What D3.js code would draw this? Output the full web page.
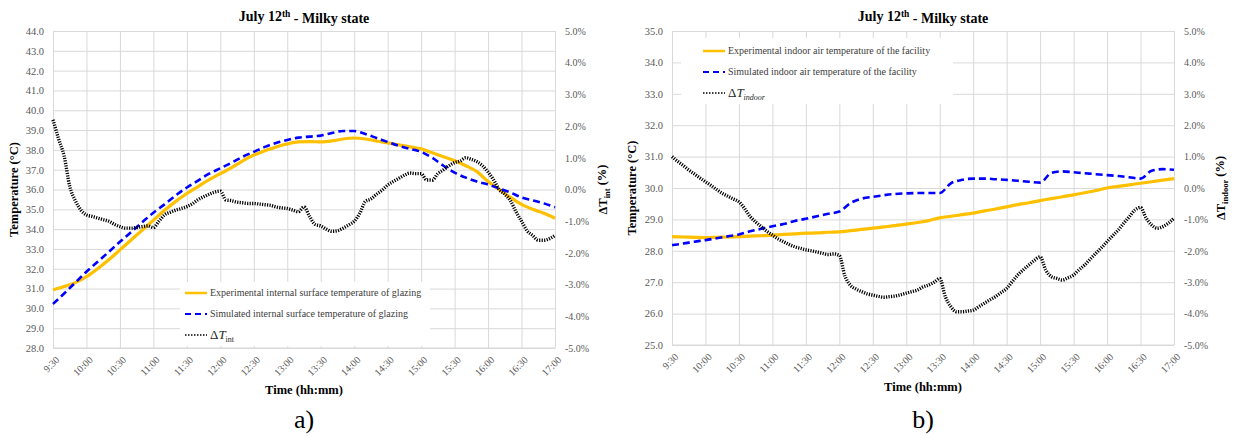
<!DOCTYPE html>
<html>
<head>
<meta charset="utf-8">
<script src="https://cdn.jsdelivr.net/npm/d3@7"></script>
<style>
  body { margin: 0; background: #fff; }
  svg { display: block; }
  text { font-family: "Liberation Serif", serif; }
</style>
</head>
<body>
<svg id="chart" width="1234" height="436"></svg>
<script>
"use strict";

// ---- data ----
const xTickLabels = ["9:30", "10:00", "10:30", "11:00", "11:30", "12:00", "12:30", "13:00",
  "13:30", "14:00", "14:30", "15:00", "15:30", "16:00", "16:30", "17:00"];

// temperature series, 10 min step
const tempTimes = ["9:30", "9:40", "9:50", "10:00", "10:10", "10:20", "10:30", "10:40", "10:50",
  "11:00", "11:10", "11:20", "11:30", "11:40", "11:50", "12:00", "12:10", "12:20", "12:30", "12:40", "12:50",
  "13:00", "13:10", "13:20", "13:30", "13:40", "13:50", "14:00", "14:10", "14:20", "14:30", "14:40", "14:50",
  "15:00", "15:10", "15:20", "15:30", "15:40", "15:50", "16:00", "16:10", "16:20", "16:30", "16:40", "16:50", "17:00"];

// delta series, 5 min step
const deltaTimes = ["9:30", "9:35", "9:40", "9:45", "9:50", "9:55",
  "10:00", "10:05", "10:10", "10:15", "10:20", "10:25", "10:30", "10:35", "10:40", "10:45", "10:50", "10:55",
  "11:00", "11:05", "11:10", "11:15", "11:20", "11:25", "11:30", "11:35", "11:40", "11:45", "11:50", "11:55",
  "12:00", "12:05", "12:10", "12:15", "12:20", "12:25", "12:30", "12:35", "12:40", "12:45", "12:50", "12:55",
  "13:00", "13:05", "13:10", "13:15", "13:20", "13:25", "13:30", "13:35", "13:40", "13:45", "13:50", "13:55",
  "14:00", "14:05", "14:10", "14:15", "14:20", "14:25", "14:30", "14:35", "14:40", "14:45", "14:50", "14:55",
  "15:00", "15:05", "15:10", "15:15", "15:20", "15:25", "15:30", "15:35", "15:40", "15:45", "15:50", "15:55",
  "16:00", "16:05", "16:10", "16:15", "16:20", "16:25", "16:30", "16:35", "16:40", "16:45", "16:50", "16:55",
  "17:00"];

// a) glazing
const expGlazing = [30.93, 31.1, 31.3, 31.6, 32.0, 32.45, 32.95, 33.45, 33.95, 34.45, 34.95, 35.4,
  35.8, 36.15, 36.5, 36.8, 37.1, 37.45, 37.74, 37.95, 38.15, 38.3, 38.4, 38.42, 38.4, 38.45, 38.55,
  38.6, 38.55, 38.45, 38.35, 38.25, 38.15, 38.05, 37.85, 37.65, 37.45, 37.2, 36.9, 36.4, 36.0, 35.6,
  35.25, 35.0, 34.8, 34.55];
const simGlazing = [30.22, 30.75, 31.3, 31.85, 32.35, 32.85, 33.36, 33.85, 34.35, 34.83, 35.25, 35.7,
  36.1, 36.45, 36.8, 37.07, 37.35, 37.65, 37.9, 38.15, 38.35, 38.5, 38.62, 38.67, 38.72, 38.85, 38.95,
  38.95, 38.8, 38.6, 38.4, 38.2, 38.05, 37.9, 37.6, 37.2, 36.85, 36.6, 36.4, 36.25, 36.05, 35.85,
  35.6, 35.45, 35.3, 35.1];
const deltaInt = [2.2, 1.6, 1.05, 0.1, -0.35, -0.65,
  -0.8, -0.85, -0.9, -0.95, -1.0, -1.1, -1.17, -1.22, -1.22, -1.2, -1.17, -1.15,
  -1.2, -1.0, -0.8, -0.72, -0.65, -0.6, -0.54, -0.45, -0.32, -0.23, -0.15, -0.08,
  -0.05, -0.33, -0.35, -0.4, -0.42, -0.44, -0.44, -0.46, -0.48, -0.5, -0.55, -0.58,
  -0.6, -0.65, -0.7, -0.55, -0.85, -1.1, -1.15, -1.25, -1.32, -1.3, -1.22, -1.12,
  -1.0, -0.75, -0.38, -0.3, -0.15, -0.02, 0.14, 0.25, 0.35, 0.45, 0.52, 0.5,
  0.5, 0.3, 0.3, 0.5, 0.62, 0.75, 0.85, 0.9, 1.0, 0.95, 0.88, 0.75,
  0.55, 0.3, 0.0, -0.15, -0.35, -0.7, -1.0, -1.3, -1.45, -1.6, -1.6, -1.55,
  -1.45];

// b) indoor air
const expIndoor = [28.45, 28.44, 28.43, 28.42, 28.43, 28.44, 28.45, 28.47, 28.48, 28.5, 28.52, 28.54,
  28.56, 28.57, 28.59, 28.6, 28.64, 28.68, 28.72, 28.76, 28.8, 28.85, 28.9, 28.96, 29.05, 29.1, 29.15,
  29.2, 29.27, 29.33, 29.4, 29.47, 29.53, 29.6, 29.66, 29.72, 29.78, 29.85, 29.92, 30.0, 30.05, 30.1,
  30.15, 30.2, 30.25, 30.3];
const simIndoor = [28.18, 28.23, 28.29, 28.34, 28.4, 28.46, 28.52, 28.62, 28.7, 28.78, 28.85, 28.95,
  29.02, 29.1, 29.18, 29.25, 29.52, 29.66, 29.72, 29.77, 29.81, 29.83, 29.84, 29.84, 29.84, 30.15, 30.26,
  30.3, 30.3, 30.28, 30.26, 30.23, 30.2, 30.17, 30.48, 30.53, 30.5, 30.47, 30.44, 30.41, 30.38, 30.34,
  30.3, 30.55, 30.6, 30.58];
const deltaIndoor = [1.0, 0.85, 0.72, 0.57, 0.45, 0.32,
  0.2, 0.08, -0.05, -0.17, -0.26, -0.35, -0.44, -0.65, -0.91, -1.08, -1.23, -1.38,
  -1.5, -1.62, -1.71, -1.8, -1.87, -1.92, -1.97, -2.0, -2.04, -2.08, -2.12, -2.1,
  -2.15, -2.8, -3.1, -3.22, -3.3, -3.37, -3.41, -3.45, -3.48, -3.46, -3.44, -3.4,
  -3.35, -3.3, -3.25, -3.15, -3.09, -3.0, -2.88, -3.46, -3.78, -3.94, -3.94, -3.92,
  -3.89, -3.78, -3.67, -3.56, -3.46, -3.33, -3.2, -2.98, -2.77, -2.6, -2.45, -2.3,
  -2.19, -2.61, -2.82, -2.88, -2.93, -2.86, -2.77, -2.6, -2.45, -2.26, -2.08, -1.9,
  -1.71, -1.52, -1.34, -1.12, -0.91, -0.7, -0.62, -0.96, -1.18, -1.28, -1.23, -1.12,
  -0.96];

const deltaDomain = [-5, 5];

// ---- drawing ----
const svg = d3.select("#chart");
const parseT = d3.timeParse("%H:%M");
const fmtT = d3.timeFormat("%-H:%M");

const ORANGE = "#ffc000", BLUE = "#0000ff", GRID = "#d9d9d9", TICK = "#595959";
const SERIF = "'Liberation Serif', serif";

function drawPanel(p) {
  const w = p.x1 - p.x0, h = p.y1 - p.y0;
  const x = d3.scaleTime()
    .domain([parseT(xTickLabels[0]), parseT(xTickLabels[xTickLabels.length - 1])])
    .range([p.x0, p.x1]);
  const yT = d3.scaleLinear().domain(p.tempDomain).range([p.y1, p.y0]);
  const yD = d3.scaleLinear().domain(deltaDomain).range([p.y1, p.y0]);
  const nT = p.tempDomain[1] - p.tempDomain[0];

  // gridlines
  svg.append("g")
    .attr("transform", `translate(${p.x0},0)`)
    .call(d3.axisLeft(yT).ticks(nT).tickSize(-w).tickFormat(""))
    .call(g => g.select(".domain").remove())
    .call(g => g.selectAll("line").attr("stroke", GRID));
  svg.append("g")
    .attr("transform", `translate(0,${p.y1})`)
    .call(d3.axisBottom(x).tickValues(xTickLabels.map(parseT)).tickSize(-h).tickFormat(""))
    .call(g => g.select(".domain").remove())
    .call(g => g.selectAll("line").attr("stroke", GRID));

  // legend box (covers the grid)
  const lg = p.legend;
  svg.append("rect")
    .attr("x", lg.x).attr("y", lg.y).attr("width", lg.w).attr("height", lg.h)
    .attr("fill", "#fff");

  // tick labels
  svg.append("g")
    .attr("transform", `translate(${p.x0},0)`)
    .attr("font-family", SERIF)
    .call(d3.axisLeft(yT).ticks(nT).tickSize(0).tickPadding(9).tickFormat(d => d.toFixed(1)))
    .call(g => g.select(".domain").remove())
    .call(g => g.selectAll("text").attr("fill", TICK).style("font-size", "10.5px").style("font-family", SERIF));
  svg.append("g")
    .attr("transform", `translate(${p.x1},0)`)
    .call(d3.axisRight(yD).ticks(10).tickSize(0).tickPadding(10).tickFormat(d => d.toFixed(1) + "%"))
    .call(g => g.select(".domain").remove())
    .call(g => g.selectAll("text").attr("fill", TICK).style("font-size", "10px").style("font-family", SERIF));
  svg.append("g")
    .attr("transform", `translate(0,${p.y1})`)
    .call(d3.axisBottom(x).tickValues(xTickLabels.map(parseT)).tickSize(0).tickFormat(fmtT))
    .call(g => g.select(".domain").remove())
    .call(g => g.selectAll("text")
      .attr("fill", TICK).attr("y", 0).attr("dy", "0.35em")
      .attr("text-anchor", "end")
      .attr("transform", "translate(4,10) rotate(-45)")
      .style("font-size", "10px")
      .style("font-family", SERIF));

  // bottom axis line
  svg.append("line")
    .attr("x1", p.x0).attr("x2", p.x1).attr("y1", p.y1).attr("y2", p.y1)
    .attr("stroke", GRID);

  // series
  const tempLine = d3.line().x(d => x(d.t)).y(d => yT(d.v)).curve(d3.curveMonotoneX);
  const deltaLine = d3.line().x(d => x(d.t)).y(d => yD(d.v)).curve(d3.curveMonotoneX);
  const pack = (times, vals) => vals.map((v, i) => ({ t: parseT(times[i]), v: v }));

  svg.append("path")
    .datum(pack(tempTimes, p.exp))
    .attr("d", tempLine)
    .attr("fill", "none").attr("stroke", ORANGE).attr("stroke-width", 3.2);
  svg.append("path")
    .datum(pack(tempTimes, p.sim))
    .attr("d", tempLine)
    .attr("fill", "none").attr("stroke", BLUE).attr("stroke-width", 2.6)
    .attr("stroke-dasharray", "7,4");
  svg.append("path")
    .datum(pack(deltaTimes, p.delta))
    .attr("d", deltaLine)
    .attr("fill", "none").attr("stroke", "#000").attr("stroke-width", 3.4)
    .attr("stroke-dasharray", "1.2,1.3");

  // legend items
  const items = [
    { label: p.expLabel, color: ORANGE, dash: null, sw: 2.5 },
    { label: p.simLabel, color: BLUE, dash: "6,4", sw: 2.2 },
    { label: null, color: "#000", dash: "1.5,1.5", sw: 1.6 }
  ];
  items.forEach((it, i) => {
    const yy = lg.rowY[i];
    svg.append("line")
      .attr("x1", lg.sx0).attr("x2", lg.sx1).attr("y1", yy).attr("y2", yy)
      .attr("stroke", it.color).attr("stroke-width", it.sw)
      .attr("stroke-dasharray", it.dash);
    const t = svg.append("text")
      .attr("x", lg.sx1 + 3).attr("y", yy).attr("dy", "0.33em")
      .attr("fill", "#404040").style("font-size", "10px");
    if (it.label) {
      t.text(it.label);
    } else {
      t.style("font-size", "13px").attr("fill", "#262626");
      t.append("tspan").text("\u0394");
      t.append("tspan").text("T").style("font-style", "italic");
      t.append("tspan").text(p.deltaSub).attr("dy", "0.35em")
        .style("font-size", "8px").style("font-style", p.subItalic ? "italic" : "normal");
    }
  });

  // chart title
  const cx = (p.x0 + p.x1) / 2;
  const title = svg.append("text")
    .attr("x", cx).attr("y", 21).attr("text-anchor", "middle")
    .style("font-size", "14px").style("font-weight", "bold").attr("fill", "#000");
  title.append("tspan").text("July 12");
  title.append("tspan").text("th").attr("dy", "-0.45em").style("font-size", "9.5px");
  title.append("tspan").text(" - Milky state").attr("dy", "0.45em");

  // axis titles
  svg.append("text")
    .attr("transform", `translate(${p.leftTitleX},${(p.y0 + p.y1) / 2}) rotate(-90)`)
    .attr("text-anchor", "middle")
    .style("font-size", "12.5px").style("font-weight", "bold")
    .text("Temperature (\u00B0C)");

  const rt = svg.append("text")
    .attr("transform", `translate(${p.rightTitleX},${(p.y0 + p.y1) / 2}) rotate(-90)`)
    .attr("text-anchor", "middle")
    .style("font-size", "12.5px").style("font-weight", "bold");
  rt.append("tspan").text("\u0394T");
  rt.append("tspan").text(p.deltaSub).attr("dy", "0.3em").style("font-size", "8.5px");
  rt.append("tspan").text(" (%)").attr("dy", "-0.3em");

  svg.append("text")
    .attr("x", cx).attr("y", p.xTitleY).attr("text-anchor", "middle")
    .style("font-size", "12.5px").style("font-weight", "bold")
    .text("Time (hh:mm)");

  svg.append("text")
    .attr("x", cx).attr("y", 428).attr("text-anchor", "middle")
    .style("font-size", "26px").attr("fill", "#000")
    .text(p.letter);
}

drawPanel({
  x0: 53, x1: 555, y0: 31, y1: 348,
  tempDomain: [28, 44],
  exp: expGlazing, sim: simGlazing, delta: deltaInt,
  expLabel: "Experimental internal surface temperature of glazing",
  simLabel: "Simulated internal surface temperature of glazing",
  deltaSub: "int", subItalic: false,
  legend: { x: 180, y: 282, w: 250, h: 64, rowY: [293, 314, 335], sx0: 185, sx1: 207 },
  leftTitleX: 18, rightTitleX: 607, xTitleY: 394, letter: "a)"
});

drawPanel({
  x0: 672, x1: 1174, y0: 31, y1: 345,
  tempDomain: [25, 35],
  exp: expIndoor, sim: simIndoor, delta: deltaIndoor,
  expLabel: "Experimental indoor air temperature of the facility",
  simLabel: "Simulated indoor air temperature of the facility",
  deltaSub: "indoor", subItalic: true,
  legend: { x: 681, y: 38, w: 272, h: 66, rowY: [51, 72, 93], sx0: 703, sx1: 725 },
  leftTitleX: 636, rightTitleX: 1225, xTitleY: 391, letter: "b)"
});
</script>
</body>
</html>
